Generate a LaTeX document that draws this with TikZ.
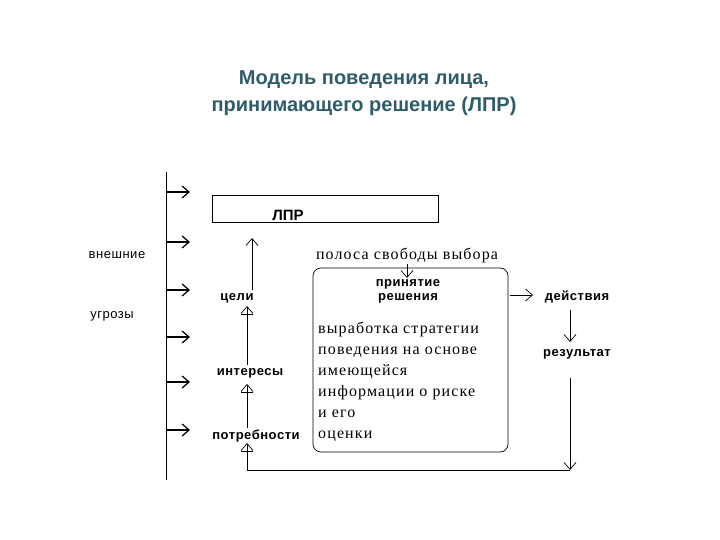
\documentclass[tikz,border=0pt]{standalone}
\usepackage{fontspec}
\setmainfont{Liberation Serif}[LetterSpace=7]
\newfontfamily\sans{Liberation Sans}[LetterSpace=4]
\newfontfamily\tsans{Liberation Sans}
\usetikzlibrary{arrows.meta}
\definecolor{ttl}{HTML}{2F5C6B}
\begin{document}
\begin{tikzpicture}[x=1pt,y=-1pt,
  lab/.style={font=\sans\bfseries\fontsize{13}{14}\selectfont, inner sep=0},
  ser/.style={font=\fontsize{16}{17}\selectfont, inner sep=0},
  arr/.style={-{Straight Barb[length=7pt,width=12pt]}, line width=0.7pt},
  barr/.style={-{Bar[width=12pt,line width=1pt]Straight Barb[length=7pt,width=12pt]}, line width=0.7pt},
  ln/.style={line width=0.7pt}]
\useasboundingbox (0,0) rectangle (720,540);
\node[font=\tsans\bfseries\fontsize{20}{27}\selectfont, text=ttl, align=center] (title) at (364,93) {Модель поведения лица,\\принимающего решение (ЛПР)};
\coordinate (vt) at (166,172); \coordinate (vb) at (166,480);
\draw[ln] (vt) -- (vb);
\foreach \y/\n in {192/a1,242/a2,290/a3,337/a4,382/a5,430/a6}{
  \coordinate (\n s) at (166,\y); \coordinate (\n e) at (190,\y);
  \draw[arr, line width=1.2pt] (\n s) -- (\n e);}
\node[lab, font=\sans\fontsize{13}{14}\selectfont] (ext) at (117,255) {внешние};
\node[lab, font=\sans\fontsize{13}{14}\selectfont] (thr) at (112,316) {угрозы};
\node[draw, ln, minimum width=226pt, minimum height=27pt, inner sep=0] (lpr) at (325,209) {};
\node[lab, font=\tsans\bfseries\fontsize{15}{16}\selectfont] (lprt) at (288,215) {ЛПР};
\node[lab] (goals) at (237,298) {цели};
\node[lab] (int) at (250,373) {интересы};
\node[lab] (need) at (256,436) {потребности};
\draw[arr] (252,290) -- (252,238);
\draw[barr] (247,365) -- (247,306);
\draw[barr] (247,428) -- (247,384);
\node[ser] (band) at (407,255) {полоса свободы выбора};
\node[draw, ln, rounded corners=8pt, minimum width=195pt, minimum height=184pt] (box) at (410.5,360) {};
\draw[arr] (407,264) -- (407,278);
\node[lab, align=center, font=\sans\bfseries\fontsize{13}{14}\selectfont] (dec) at (408,291) {принятие\\решения};
\node[ser, anchor=north west, align=left, font=\fontsize{16}{21}\selectfont] (strat) at (318,322) {выработка стратегии\\поведения на основе\\имеющейся\\информации о риске\\и его\\оценки};
\node[lab] (act) at (577,297) {действия};
\node[lab] (res) at (577,354) {результат};
\draw[arr] (510,295) -- (533,295);
\draw[arr] (570,310) -- (570,342);
\coordinate (fb) at (570,470);
\draw[arr] (570,378) -- (fb);
\draw[ln] (fb) -- (247,470);
\draw[barr] (247,470) -- (247,443);
\end{tikzpicture}
\end{document}
